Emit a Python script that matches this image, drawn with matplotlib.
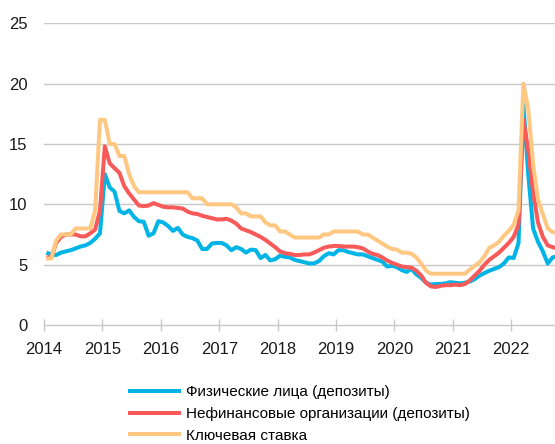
import matplotlib
matplotlib.use("Agg")
import matplotlib.pyplot as plt
import numpy as np

plt.rcParams["font.family"] = ["Liberation Sans", "DejaVu Sans"]

# monthly values, Jan 2014 .. Oct 2022
start_year = 2014

households = [
    6.0, 5.85, 5.8, 6.0, 6.1, 6.2, 6.35, 6.5, 6.6, 6.8, 7.15, 7.6,
    12.5, 11.4, 11.05, 9.45, 9.25, 9.5, 8.95, 8.6, 8.55, 7.4, 7.6, 8.6,
    8.5, 8.2, 7.8, 8.05, 7.5, 7.3, 7.2, 7.0, 6.3, 6.3, 6.75, 6.8,
    6.8, 6.6, 6.2, 6.45, 6.3, 6.0, 6.25, 6.2, 5.55, 5.8, 5.35, 5.45,
    5.75, 5.65, 5.6, 5.4, 5.3, 5.2, 5.1, 5.1, 5.3, 5.7, 5.95, 5.85,
    6.2, 6.2, 6.05, 5.95, 5.85, 5.85, 5.7, 5.55, 5.4, 5.25, 4.85, 4.9,
    4.8, 4.55, 4.4, 4.65, 4.2, 3.9, 3.5, 3.35, 3.4, 3.4, 3.45, 3.55,
    3.5, 3.45, 3.5, 3.6, 3.8, 4.1, 4.3, 4.5, 4.65, 4.8, 5.1, 5.6,
    5.55, 6.8, 18.3, 12.5, 8.0, 6.9, 6.1, 5.1, 5.6, 5.7,
]

companies = [
    5.6, 5.6, 6.8, 7.3, 7.5, 7.5, 7.5, 7.35, 7.35, 7.6, 7.9, 9.5,
    14.8, 13.4, 13.0, 12.6, 11.5, 10.9, 10.4, 9.9, 9.85, 9.9, 10.1, 9.95,
    9.8, 9.75, 9.75, 9.7, 9.65, 9.4, 9.25, 9.2, 9.05, 8.95, 8.85, 8.75,
    8.75, 8.8, 8.65, 8.4, 8.0, 7.85, 7.7, 7.5, 7.3, 7.05, 6.75, 6.45,
    6.1, 5.95, 5.9, 5.8, 5.8, 5.85, 5.85, 6.0, 6.2, 6.4, 6.5, 6.55,
    6.55, 6.5, 6.5, 6.5, 6.45, 6.35, 6.1, 5.9, 5.8, 5.6, 5.35, 5.15,
    5.0, 4.85, 4.8, 4.75, 4.5, 4.1, 3.5, 3.2, 3.15, 3.25, 3.3, 3.3,
    3.35, 3.3, 3.4, 3.7, 4.1, 4.5, 5.0, 5.4, 5.7, 6.0, 6.4, 6.8,
    7.3, 8.3, 17.0, 14.5, 11.0, 8.5, 7.3, 6.6, 6.45, 6.35,
]

key_rate = [
    5.5, 5.5, 7.0, 7.5, 7.5, 7.5, 8.0, 8.0, 8.0, 8.0, 9.5, 17.0,
    17.0, 15.0, 15.0, 14.0, 14.0, 12.5, 11.5, 11.0, 11.0, 11.0, 11.0, 11.0,
    11.0, 11.0, 11.0, 11.0, 11.0, 11.0, 10.5, 10.5, 10.5, 10.0, 10.0, 10.0,
    10.0, 10.0, 10.0, 9.75, 9.25, 9.25, 9.0, 9.0, 9.0, 8.5, 8.25, 8.25,
    7.75, 7.75, 7.5, 7.25, 7.25, 7.25, 7.25, 7.25, 7.25, 7.5, 7.5, 7.75,
    7.75, 7.75, 7.75, 7.75, 7.75, 7.5, 7.5, 7.25, 7.0, 6.75, 6.5, 6.3,
    6.25, 6.0, 6.0, 5.9, 5.6, 5.1, 4.5, 4.25, 4.25, 4.25, 4.25, 4.25,
    4.25, 4.25, 4.25, 4.6, 4.9, 5.2, 5.7, 6.4, 6.6, 6.9, 7.4, 7.8,
    8.3, 9.5, 20.0, 17.9, 13.3, 10.4, 9.2, 8.0, 7.7, 7.6,
]

labels = [
    "Физические лица (депозиты)",
    "Нефинансовые организации (депозиты)",
    "Ключевая ставка",
]
colors = ["#00b4e6", "#f85a5a", "#ffc882"]
year_ticks = list(range(2014, 2023))

# points sit in the middle of each month
months = np.arange(len(key_rate))
x = start_year + (months + 0.5) / 12

fig = plt.figure(figsize=(5.55, 4.44), dpi=100)
ax = fig.add_axes([0.0793, 0.268, 0.93, 0.6795])

lines = []
for series, label, color in zip([households, companies, key_rate], labels, colors):
    ln, = ax.plot(x, series, color=color, lw=2.9, label=label,
                  solid_joinstyle="round", solid_capstyle="butt")
    lines.append(ln)

ax.set_xlim(2014, 2014 + 0.93 * 555 / 58.4)
ax.set_ylim(0, 25)
ax.set_yticks([0, 5, 10, 15, 20, 25])
ax.set_xticks(year_ticks)
ax.set_xticklabels([str(y) for y in year_ticks])

# grid only for the horizontal levels
for v in [5, 10, 15, 20, 25]:
    ax.axhline(v, color="#c8c8c8", lw=1.0, zorder=0)

for side in ["top", "right", "left"]:
    ax.spines[side].set_visible(False)
ax.spines["bottom"].set_color("#c8c8c8")
ax.spines["bottom"].set_linewidth(1.0)

ax.tick_params(axis="x", direction="inout", length=8, width=1.0,
               color="#c8c8c8", labelsize=12, labelcolor="#1a1a1a", pad=8)
ax.tick_params(axis="y", length=0, labelsize=12, labelcolor="#1a1a1a", pad=12)

fig.legend(handles=lines, labels=labels, loc="upper left",
           bbox_to_anchor=(0.2306, 0.132), frameon=False, fontsize=11,
           handlelength=3.5, handletextpad=0.33, labelspacing=0.5,
           borderpad=0, borderaxespad=0)

plt.savefig("out.png", dpi=100)
